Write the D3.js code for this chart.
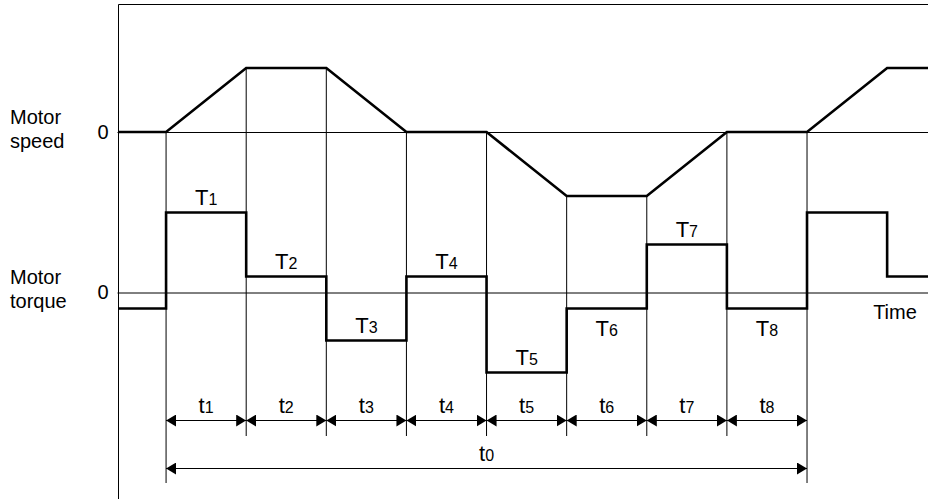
<!DOCTYPE html>
<html>
<head>
<meta charset="utf-8">
<script src="https://cdn.jsdelivr.net/npm/d3@7"></script>
<style>
  html, body { margin: 0; padding: 0; background: #fff; }
  svg { display: block; font-family: Arial, "Liberation Sans", sans-serif; }
</style>
</head>
<body>
<svg id="chart" width="928" height="499"></svg>
<script>
// time in units of one interval, 0 = start of t1
var intervals = ["1", "2", "3", "4", "5", "6", "7", "8"];
var speedTimes = [-0.6, 0, 1, 2, 3, 4, 5, 6, 7, 8, 9, 9.51];
var speedValues = [0, 0, 1, 1, 0, 0, -1, -1, 0, 0, 1, 1];
var torqueLevels = [5, 1, -3, 1, -5, -1, 3, -1];   // T1..T8
var torqueBefore = -1;        // end of previous cycle
var torqueAfter = [5, 1];     // next cycle starts again
var zeroTicks = [0];

var svg = d3.select("#chart");
var W = 928;

var x = d3.scaleLinear().domain([-0.6, 9.51]).range([118, W]);
var ySpeed = d3.scaleLinear().domain([-1, 1]).range([196, 68]);
var yTorque = d3.scaleLinear().domain([-5, 5]).range([372.5, 212.5]);

var font = 20, subFont = 16, capH = 15;

// frame (top + left)
var fx = Math.round(x(-0.6)) + 0.5;
svg.append("path")
    .attr("d", "M" + W + ",4.5H" + fx + "V499")
    .attr("fill", "none").attr("stroke", "#000").attr("stroke-width", 1);

// zero lines + "0" labels via axes
function zeroAxis(scale) {
    var g = svg.append("g")
        .attr("transform", "translate(" + fx + ",0)")
        .call(d3.axisLeft(scale).tickValues(zeroTicks).tickFormat(d3.format("d"))
            .tickSize(-(W - fx) - 1).tickPadding(10));
    g.select(".domain").remove();
    g.attr("font-size", font).attr("font-family", null);
    g.selectAll(".tick line").attr("stroke", "#000").attr("transform", "translate(-1,0)");
    g.selectAll(".tick text").attr("fill", "#000");
}
zeroAxis(ySpeed);
zeroAxis(yTorque);

// row titles
function rowTitle(lines, y0) {
    var t = svg.append("text").attr("font-size", font).attr("fill", "#000");
    lines.forEach(function (s, i) {
        t.append("tspan").attr("x", 10).attr("y", y0 + i * 24).text(s);
    });
}
rowTitle(["Motor", "speed"], 124);
rowTitle(["Motor", "torque"], 284);

svg.append("text").attr("x", 895).attr("y", 319)
    .attr("text-anchor", "middle").attr("font-size", font).text("Time");

// speed lookup at boundaries
function speedAt(t) {
    return speedValues[speedTimes.indexOf(t)];
}

// vertical guides at interval boundaries
var bounds = d3.range(intervals.length + 1);
svg.append("g").selectAll("line")
    .data(bounds)
    .join("line")
    .attr("x1", function (d) { return x(d); })
    .attr("x2", function (d) { return x(d); })
    .attr("y1", function (d) { return ySpeed(speedAt(d)); })
    .attr("y2", function (d) { return (d === 0 || d === intervals.length) ? 483 : 436; })
    .attr("stroke", "#000").attr("stroke-width", 1);

// speed curve
var speedPts = speedTimes.map(function (t, i) { return [t, speedValues[i]]; });
svg.append("path")
    .datum(speedPts)
    .attr("d", d3.line().x(function (d) { return x(d[0]); }).y(function (d) { return ySpeed(d[1]); }))
    .attr("fill", "none").attr("stroke", "#000").attr("stroke-width", 2.6)
    .attr("stroke-linejoin", "miter");

// torque step curve
var tqTimes = [-0.6].concat(bounds.slice(0, 8), [8, 9, 9.51]);
var tqVals = [torqueBefore].concat(torqueLevels, torqueAfter, [torqueAfter[1]]);
var tqPts = tqTimes.map(function (t, i) { return [t, tqVals[i]]; });
svg.append("path")
    .datum(tqPts)
    .attr("d", d3.line().curve(d3.curveStepAfter)
        .x(function (d) { return x(d[0]); }).y(function (d) { return yTorque(d[1]); }))
    .attr("fill", "none").attr("stroke", "#000").attr("stroke-width", 2.6)
    .attr("stroke-linejoin", "miter");

// label with subscript
function subLabel(main, sub, cx, y) {
    var t = svg.append("text").attr("x", cx).attr("y", y)
        .attr("text-anchor", "middle").attr("font-size", font + 2).attr("fill", "#000");
    t.append("tspan").text(main);
    t.append("tspan").attr("font-size", subFont).text(sub);
    return t;
}

// T labels
torqueLevels.forEach(function (v, i) {
    var ly = yTorque(v), zy = yTorque(0);
    var above = ly - 7.5;
    var by = (v < 0 && above - capH < zy) ? ly + 27.5 : above;
    subLabel("T", intervals[i], x(i + 0.5), by);
});

// dimension arrows
var defs = svg.append("defs");
defs.append("marker")
    .attr("id", "arr").attr("viewBox", "0 -6 10 12")
    .attr("refX", 10).attr("refY", 0)
    .attr("markerWidth", 10).attr("markerHeight", 12)
    .attr("markerUnits", "userSpaceOnUse")
    .attr("orient", "auto-start-reverse")
    .append("path").attr("d", "M0,-6L10,0L0,6Z").attr("fill", "#000");

var rowY = 420.5, totalY = 468.5;
intervals.forEach(function (s, i) {
    svg.append("line")
        .attr("x1", x(i)).attr("x2", x(i + 1))
        .attr("y1", rowY).attr("y2", rowY)
        .attr("stroke", "#000").attr("stroke-width", 1)
        .attr("marker-start", "url(#arr)").attr("marker-end", "url(#arr)");
    subLabel("t", s, x(i + 0.5), rowY - 7.5);
});
svg.append("line")
    .attr("x1", x(0)).attr("x2", x(8))
    .attr("y1", totalY).attr("y2", totalY)
    .attr("stroke", "#000").attr("stroke-width", 1)
    .attr("marker-start", "url(#arr)").attr("marker-end", "url(#arr)");
subLabel("t", "0", x(4), totalY - 8);
</script>
</body>
</html>
